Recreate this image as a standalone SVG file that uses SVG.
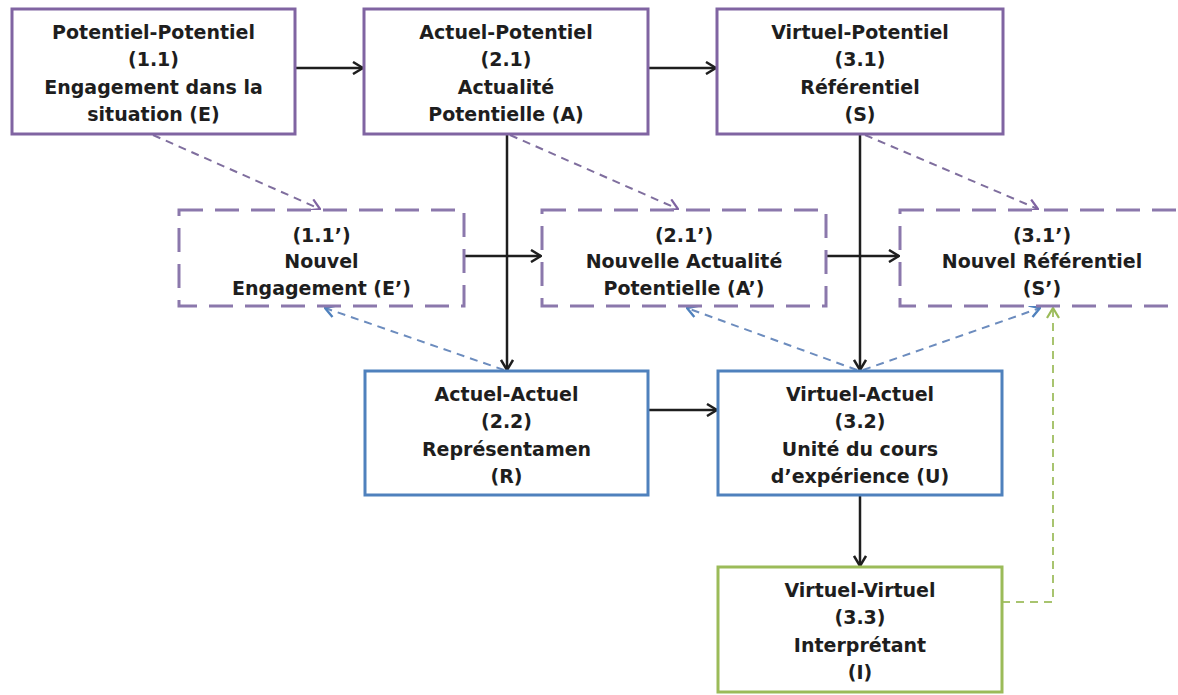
<svg xmlns="http://www.w3.org/2000/svg" width="1178" height="695" viewBox="0 0 1178 695">
<defs>
<style>
.bg{fill:#ffffff}
.box{fill:#ffffff;stroke-width:3}
.pur{stroke:#8064A2}
.blu{stroke:#4F81BD}
.grn{stroke:#9BBB59}
.dbox{fill:#ffffff;stroke:#8B78AC;stroke-width:3;stroke-dasharray:24 12}
text{font-family:"DejaVu Sans","Liberation Sans",sans-serif;font-weight:bold;font-size:19px;fill:#1e1e1e;text-anchor:middle}
.solid{fill:none;stroke:#1e1e1e;stroke-width:2.5}
.pd{fill:none;stroke:#7F6E9E;stroke-width:2;stroke-dasharray:8 6}
.bd{fill:none;stroke:#6C8CBE;stroke-width:2;stroke-dasharray:8 6}
.gd{fill:none;stroke:#A8C46F;stroke-width:2;stroke-dasharray:8 6}
</style>
<marker id="ab" viewBox="0 0 12 14" refX="11" refY="7" markerWidth="12" markerHeight="14" markerUnits="userSpaceOnUse" orient="auto">
<path d="M1,1 L11,7 L1,13" fill="none" stroke="#1e1e1e" stroke-width="2.5"/>
</marker>
<marker id="ap" viewBox="0 0 12 14" refX="11" refY="7" markerWidth="12" markerHeight="14" markerUnits="userSpaceOnUse" orient="auto">
<path d="M1,1 L11,7 L1,13" fill="none" stroke="#8064A2" stroke-width="2.2"/>
</marker>
<marker id="abl" viewBox="0 0 12 14" refX="11" refY="7" markerWidth="12" markerHeight="14" markerUnits="userSpaceOnUse" orient="auto">
<path d="M1,1 L11,7 L1,13" fill="none" stroke="#4F81BD" stroke-width="2.4"/>
</marker>
<marker id="ag" viewBox="0 0 12 14" refX="11" refY="7" markerWidth="12" markerHeight="14" markerUnits="userSpaceOnUse" orient="auto">
<path d="M1,1 L11,7 L1,13" fill="none" stroke="#9BBB59" stroke-width="2.2"/>
</marker>
</defs>
<rect class="bg" x="0" y="0" width="1178" height="695"/>

<g id="connectors">
<line class="solid" x1="295" y1="68" x2="363" y2="68" marker-end="url(#ab)"/>
<line class="solid" x1="648" y1="68" x2="716" y2="68" marker-end="url(#ab)"/>
<line class="solid" x1="464" y1="256" x2="541" y2="256" marker-end="url(#ab)"/>
<line class="solid" x1="826" y1="256" x2="899" y2="256" marker-end="url(#ab)"/>
<line class="solid" x1="648" y1="410" x2="717" y2="410" marker-end="url(#ab)"/>
<line class="solid" x1="507" y1="134" x2="507" y2="370" marker-end="url(#ab)"/>
<line class="solid" x1="860" y1="134" x2="860" y2="370" marker-end="url(#ab)"/>
<line class="solid" x1="860" y1="495" x2="860" y2="566" marker-end="url(#ab)"/>
<line class="pd" x1="153" y1="135" x2="320" y2="209" marker-end="url(#ap)"/>
<line class="pd" x1="510" y1="135" x2="678" y2="209" marker-end="url(#ap)"/>
<line class="pd" x1="865" y1="135" x2="1038" y2="209" marker-end="url(#ap)"/>
<line class="bd" x1="504" y1="370" x2="325" y2="308" marker-end="url(#abl)"/>
<line class="bd" x1="857" y1="370" x2="687" y2="308" marker-end="url(#abl)"/>
<line class="bd" x1="863" y1="370" x2="1040" y2="308" marker-end="url(#abl)"/>
<polyline class="gd" points="1002,602 1053,602 1053,308" marker-end="url(#ag)"/>
</g>

<g id="n11">
<rect class="box pur" x="12" y="9" width="283" height="125"/>
<text x="153.5" y="38.5">Potentiel-Potentiel</text>
<text x="153.5" y="66">(1.1)</text>
<text x="153.5" y="93.5">Engagement dans la</text>
<text x="153.5" y="121">situation (E)</text>
</g>
<g id="n21">
<rect class="box pur" x="364" y="9" width="284" height="125"/>
<text x="506" y="38.5">Actuel-Potentiel</text>
<text x="506" y="66">(2.1)</text>
<text x="506" y="93.5">Actualité</text>
<text x="506" y="121">Potentielle (A)</text>
</g>
<g id="n31">
<rect class="box pur" x="717" y="9" width="286" height="125"/>
<text x="860" y="38.5">Virtuel-Potentiel</text>
<text x="860" y="66">(3.1)</text>
<text x="860" y="93.5">Référentiel</text>
<text x="860" y="121">(S)</text>
</g>

<g id="n11p">
<rect class="dbox" x="179" y="210" width="285" height="96"/>
<text x="321.5" y="242">(1.1’)</text>
<text x="321.5" y="268">Nouvel</text>
<text x="321.5" y="294.5">Engagement (E’)</text>
</g>
<g id="n21p">
<rect class="dbox" x="542" y="210" width="284" height="96"/>
<text x="684" y="242">(2.1’)</text>
<text x="684" y="268">Nouvelle Actualité</text>
<text x="684" y="294.5">Potentielle (A’)</text>
</g>
<g id="n31p">
<rect class="dbox" x="900" y="210" width="284" height="96"/>
<text x="1042" y="242">(3.1’)</text>
<text x="1042" y="268">Nouvel Référentiel</text>
<text x="1042" y="294.5">(S’)</text>
</g>

<g id="n22">
<rect class="box blu" x="365" y="371" width="283" height="124"/>
<text x="506.5" y="400.5">Actuel-Actuel</text>
<text x="506.5" y="428">(2.2)</text>
<text x="506.5" y="455.5">Représentamen</text>
<text x="506.5" y="483">(R)</text>
</g>
<g id="n32">
<rect class="box blu" x="718" y="371" width="284" height="124"/>
<text x="860" y="400.5">Virtuel-Actuel</text>
<text x="860" y="428">(3.2)</text>
<text x="860" y="455.5">Unité du cours</text>
<text x="860" y="483">d’expérience (U)</text>
</g>
<g id="n33">
<rect class="box grn" x="718" y="567" width="284" height="125"/>
<text x="860" y="596.5">Virtuel-Virtuel</text>
<text x="860" y="624">(3.3)</text>
<text x="860" y="651.5">Interprétant</text>
<text x="860" y="679">(I)</text>
</g>
</svg>
